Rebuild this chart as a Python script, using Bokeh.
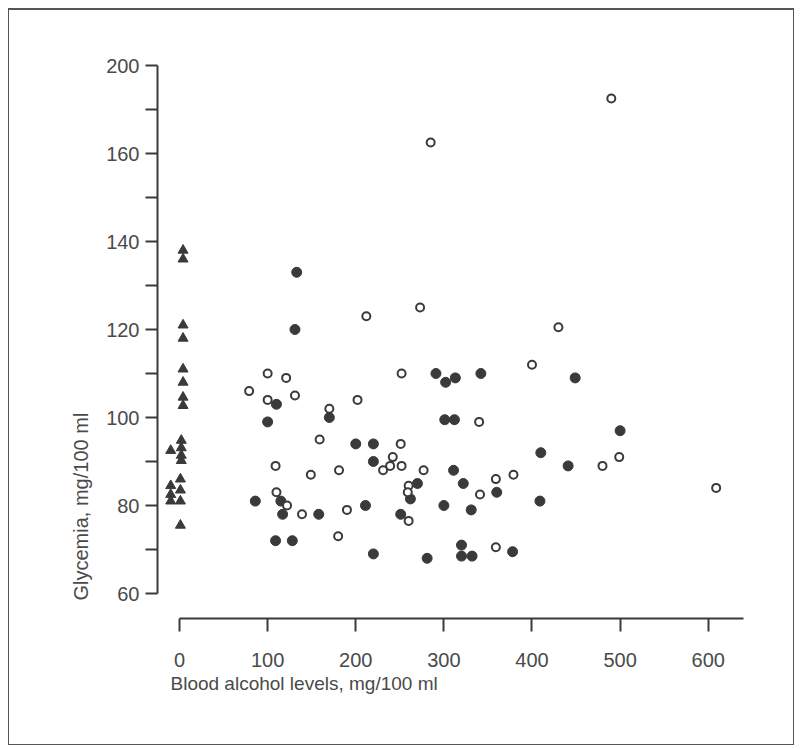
import numpy as np
from bokeh.plotting import figure
from bokeh.models import FixedTicker, Title, InlineStyleSheet
from bokeh.embed import file_html
from bokeh.resources import INLINE

# ---------------- data ----------------
# triangles: blood alcohol ~0
tri_x = [4, 4, 4, 4, 4, 4, 4, 4, 2, 2, 2, -10, 2, 1, 1, 1, -10, -10, -10, 1]
tri_y = [138, 136, 121, 118, 111, 108, 104.6, 102.7, 94.8, 93.1, 91.4, 92.5, 90.2,
         86, 83.5, 81, 84.5, 82.5, 81, 75.5]

# filled circles
filled_x = [133, 131, 110, 170, 100, 86, 115, 117, 158, 109, 128, 200, 220, 220, 211,
            220, 270, 262, 251, 291, 302, 313, 342, 449, 301, 312, 500, 311, 410, 441,
            322, 360, 409, 300, 331, 281, 320, 320, 332, 378]
filled_y = [133, 120, 103, 100, 99, 81, 81, 78, 78, 72, 72, 94, 94, 90, 80,
            69, 85, 81.5, 78, 110, 108, 109, 110, 109, 99.5, 99.5, 97, 88, 92, 89,
            85, 83, 81, 80, 79, 68, 71, 68.5, 68.5, 69.5]

# open circles
open_x = [100, 121, 79, 100, 131, 170, 202, 252, 159, 251, 242, 239, 231, 252, 109,
          149, 181, 110, 122, 139, 190, 180, 260, 259, 260, 277, 340, 400, 480, 499,
          359, 379, 341, 359, 490, 285, 212, 273, 430, 609]
open_y = [110, 109, 106, 104, 105, 102, 104, 110, 95, 94, 91, 89, 88, 89, 89,
          87, 88, 83, 80, 78, 79, 73, 84.5, 83, 76.5, 88, 99, 112, 89, 91,
          86, 87, 82.5, 70.5, 185, 165, 123, 125, 120.5, 84]

# axis ticks (the axis is broken above 160: 160-200 occupies one 20-unit step)
X_TICKS = [0, 100, 200, 300, 400, 500, 600]
Y_TICKS = [60, 80, 100, 120, 140, 160, 200]
X_LABEL = "Blood alcohol levels, mg/100 ml"
Y_LABEL = "Glycemia, mg/100 ml"

BREAK = 160.0


def to_plot(y):
    y = np.asarray(y, dtype=float)
    return np.where(y > BREAK, BREAK + (y - BREAK) / 2.0, y)


INK = "#3a3a3a"
TXT = "#4a4a4a"
FONT = "Liberation Sans"

p = figure(
    output_backend="svg", toolbar_location=None,
    frame_width=588, frame_height=553,
    min_border_left=157, min_border_right=50,
    min_border_top=65, min_border_bottom=128,
    x_range=(-25, 642.3), y_range=(54.32, 180),
    background_fill_color="white", border_fill_color="white",
)
p.outline_line_color = None
p.grid.visible = False
p.stylesheets = [InlineStyleSheet(css=(
    ":host { position: relative; }"
    ":host::after { content: ''; position: absolute; left: 8px; top: 8px; "
    "right: 1px; bottom: 1px; border: 1.5px solid #555; border-top-width: 2px; "
    "pointer-events: none; z-index: 1000; }"
))]

# axes
ytick_pos = [float(v) for v in to_plot(Y_TICKS)]
yminor = [(a + b) / 2 for a, b in zip(ytick_pos[:-1], ytick_pos[1:])]
p.yaxis.ticker = FixedTicker(ticks=ytick_pos, minor_ticks=yminor)
p.yaxis.major_label_overrides = {tp: str(t) for tp, t in zip(ytick_pos, Y_TICKS)}
p.yaxis.bounds = (ytick_pos[0], ytick_pos[-1])
p.xaxis.ticker = FixedTicker(ticks=X_TICKS)
p.xaxis.bounds = (0, 640)

for ax in (p.xaxis[0], p.yaxis[0]):
    ax.axis_line_color = INK
    ax.axis_line_width = 2
    ax.major_tick_line_color = INK
    ax.major_tick_line_width = 2
    ax.minor_tick_line_color = INK
    ax.minor_tick_line_width = 2
    ax.major_tick_in = 0
    ax.minor_tick_in = 0
    ax.major_label_text_font = FONT
    ax.major_label_text_font_size = "20px"
    ax.major_label_text_color = TXT

p.yaxis.major_tick_out = 12
p.yaxis.minor_tick_out = 12
p.yaxis.major_label_standoff = 6
p.xaxis.major_tick_out = 13
p.xaxis.minor_tick_out = 0
p.xaxis.major_label_standoff = 21

# points
p.scatter(tri_x, to_plot(tri_y), marker="triangle", size=10,
          fill_color=INK, line_color=INK, line_width=1)
p.scatter(filled_x, to_plot(filled_y), marker="circle", size=10,
          fill_color=INK, line_color=INK, line_width=1)
p.scatter(open_x, to_plot(open_y), marker="circle", size=8,
          fill_color="white", line_color=INK, line_width=2)

# axis titles
p.add_layout(Title(text=X_LABEL, align="left", offset=13, standoff=2,
                   text_font=FONT, text_font_size="19px", text_font_style="normal",
                   text_color=TXT), "below")
p.add_layout(Title(text=Y_LABEL, align="left", offset=18, standoff=23,
                   text_font=FONT, text_font_size="20px", text_font_style="normal",
                   text_color=TXT), "left")

open("out.html", "w").write(file_html(p, INLINE))
